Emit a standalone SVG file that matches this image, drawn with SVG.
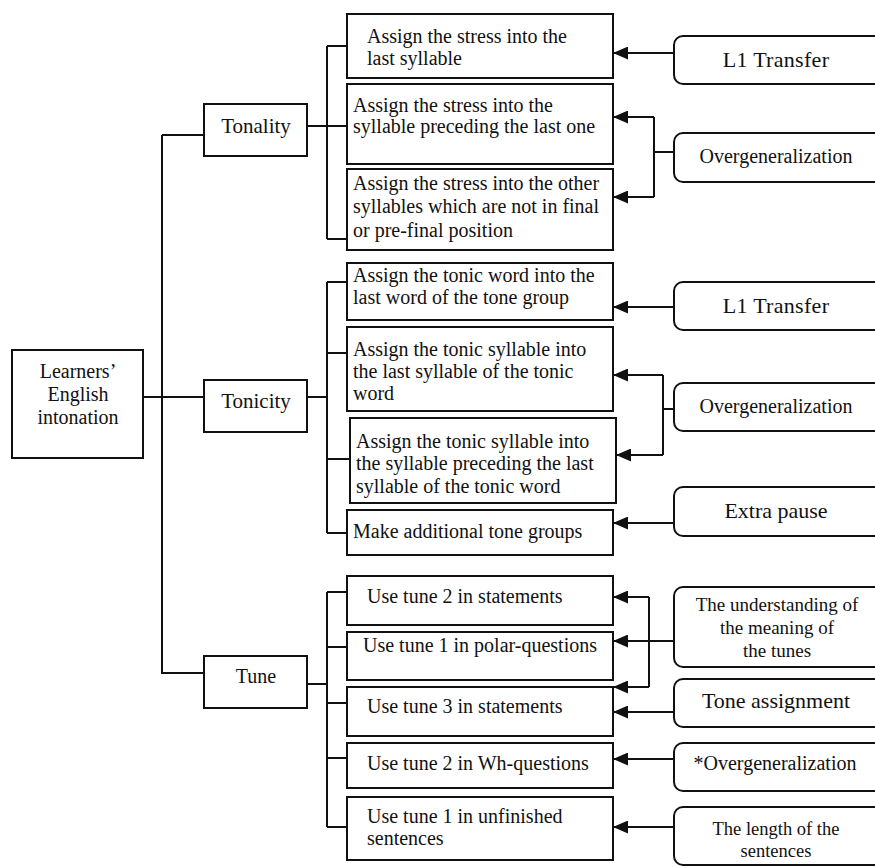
<svg xmlns="http://www.w3.org/2000/svg" width="875" height="867" viewBox="0 0 875 867">
<style>
.box{fill:#fff;stroke:#111;stroke-width:2}
.rbox{fill:#fff;stroke:#111;stroke-width:2}
.t{font-family:"Liberation Serif","Times New Roman",serif;font-size:20px;fill:#111}
.m{text-anchor:middle}
.big{font-size:22px}
.mid{font-size:21px}
.sm{font-size:18.5px}
.c line,.c path{stroke:#111;stroke-width:2;fill:none}
</style>
<defs>
<marker id="ah" markerUnits="userSpaceOnUse" markerWidth="15" markerHeight="13" refX="15" refY="6.5" orient="auto">
<path d="M0,0 L15,6.5 L0,13 z" fill="#111"/>
</marker>
</defs>
<rect width="875" height="867" fill="#fff"/>
<g class="c" id="connectors">
<path d="M162,135 H204 M162,135 V673 H204 M143,397 H204"/>
<path d="M307,126 H347 M327,46 V239 M327,46 H347 M327,239 H347"/>
<path d="M307,397 H327 M327,282 V533 M327,282 H347 M327,353 H347 M327,459 H350 M327,533 H347"/>
<path d="M307,684 H327 M327,592 V827 M327,592 H347 M327,647 H347 M327,703 H347 M327,758 H347 M327,827 H347"/>
<path d="M674,152 H654 M654,117 V197"/>
<path d="M674,409 H663 M663,375 V455"/>
<path d="M649,597 V687"/>
<line x1="674" y1="53" x2="613" y2="53" marker-end="url(#ah)"/>
<line x1="654" y1="117" x2="613" y2="117" marker-end="url(#ah)"/>
<line x1="654" y1="197" x2="613" y2="197" marker-end="url(#ah)"/>
<line x1="674" y1="307" x2="613" y2="307" marker-end="url(#ah)"/>
<line x1="663" y1="375" x2="613" y2="375" marker-end="url(#ah)"/>
<line x1="663" y1="455" x2="616" y2="455" marker-end="url(#ah)"/>
<line x1="674" y1="523" x2="613" y2="523" marker-end="url(#ah)"/>
<line x1="649" y1="597" x2="613" y2="597" marker-end="url(#ah)"/>
<line x1="674" y1="641" x2="613" y2="641" marker-end="url(#ah)"/>
<line x1="649" y1="687" x2="613" y2="687" marker-end="url(#ah)"/>
<line x1="674" y1="712" x2="613" y2="712" marker-end="url(#ah)"/>
<line x1="674" y1="759" x2="613" y2="759" marker-end="url(#ah)"/>
<line x1="674" y1="827" x2="613" y2="827" marker-end="url(#ah)"/>
</g>
<g id="root"><rect class="box" x="12" y="350" width="131" height="108"/>
<text class="t m" x="78" y="378">Learners’</text><text class="t m" x="78" y="401">English</text><text class="t m" x="78" y="424">intonation</text></g>
<g id="tonality"><rect class="box" x="204" y="104" width="103" height="52"/><text class="t m mid" x="256" y="133">Tonality</text></g>
<g id="tonicity"><rect class="box" x="204" y="380" width="103" height="52"/><text class="t m mid" x="256" y="408">Tonicity</text></g>
<g id="tune"><rect class="box" x="204" y="656" width="103" height="52"/><text class="t m" x="256" y="683">Tune</text></g>
<g id="b1"><rect class="box" x="347" y="14" width="266" height="64"/><text class="t" x="367" y="43">Assign the stress into the</text><text class="t" x="367" y="65">last syllable</text></g>
<g id="b2"><rect class="box" x="347" y="84" width="266" height="80"/><text class="t" x="353" y="112">Assign the stress into the</text><text class="t" x="353" y="133">syllable preceding the last one</text></g>
<g id="b3"><rect class="box" x="347" y="169" width="266" height="81"/><text class="t" x="353" y="190">Assign the stress into the other</text><text class="t" x="353" y="213">syllables which are not in final</text><text class="t" x="353" y="237">or pre-final position</text></g>
<g id="b4"><rect class="box" x="347" y="263" width="266" height="57"/><text class="t" x="353" y="282">Assign the tonic word into the</text><text class="t" x="353" y="304">last word of the tone group</text></g>
<g id="b5"><rect class="box" x="347" y="327" width="266" height="84"/><text class="t" x="353" y="356">Assign the tonic syllable into</text><text class="t" x="353" y="378">the last syllable of the tonic</text><text class="t" x="353" y="400">word</text></g>
<g id="b6"><rect class="box" x="350" y="418" width="266" height="85"/><text class="t" x="356" y="448">Assign the tonic syllable into</text><text class="t" x="356" y="470">the syllable preceding the last</text><text class="t" x="356" y="493">syllable of the tonic word</text></g>
<g id="b7"><rect class="box" x="347" y="510" width="266" height="45"/><text class="t" x="353" y="538">Make additional tone groups</text></g>
<g id="b8"><rect class="box" x="347" y="576" width="266" height="49"/><text class="t" x="367" y="603">Use tune 2 in statements</text></g>
<g id="b9"><rect class="box" x="347" y="632" width="266" height="48"/><text class="t" x="363" y="652">Use tune 1 in polar-questions</text></g>
<g id="b10"><rect class="box" x="347" y="687" width="266" height="49"/><text class="t" x="367" y="713">Use tune 3 in statements</text></g>
<g id="b11"><rect class="box" x="347" y="743" width="266" height="45"/><text class="t" x="367" y="770">Use tune 2 in Wh-questions</text></g>
<g id="b12"><rect class="box" x="347" y="797" width="266" height="63"/><text class="t" x="367" y="823">Use tune 1 in unfinished</text><text class="t" x="367" y="845">sentences</text></g>
<g id="r1"><rect class="rbox" x="674" y="36" width="210" height="48" rx="9"/><text class="t m big" x="776" y="67" letter-spacing="0.3">L1 Transfer</text></g>
<g id="r2"><rect class="rbox" x="674" y="133" width="210" height="49" rx="9"/><text class="t m" x="776" y="163">Overgeneralization</text></g>
<g id="r3"><rect class="rbox" x="674" y="282" width="210" height="48" rx="9"/><text class="t m big" x="776" y="313" letter-spacing="0.3">L1 Transfer</text></g>
<g id="r4"><rect class="rbox" x="674" y="383" width="210" height="48" rx="9"/><text class="t m" x="776" y="413">Overgeneralization</text></g>
<g id="r5"><rect class="rbox" x="674" y="487" width="210" height="49" rx="9"/><text class="t m big" x="776" y="518">Extra pause</text></g>
<g id="r6"><rect class="rbox" x="674" y="587" width="210" height="80" rx="9"/><text class="t m" x="777" y="611" style="font-size:19px">The understanding of</text><text class="t m" x="777" y="634" style="font-size:19px">the meaning of</text><text class="t m" x="777" y="657" style="font-size:19px">the tunes</text></g>
<g id="r7"><rect class="rbox" x="674" y="679" width="210" height="48" rx="9"/><text class="t m big" x="776" y="708">Tone assignment</text></g>
<g id="r8"><rect class="rbox" x="674" y="743" width="210" height="48" rx="9"/><text class="t m" x="775" y="770">*Overgeneralization</text></g>
<g id="r9"><rect class="rbox" x="674" y="807" width="210" height="58" rx="9"/><text class="t m sm" x="776" y="835">The length of the</text><text class="t m sm" x="776" y="857">sentences</text></g>
</svg>
